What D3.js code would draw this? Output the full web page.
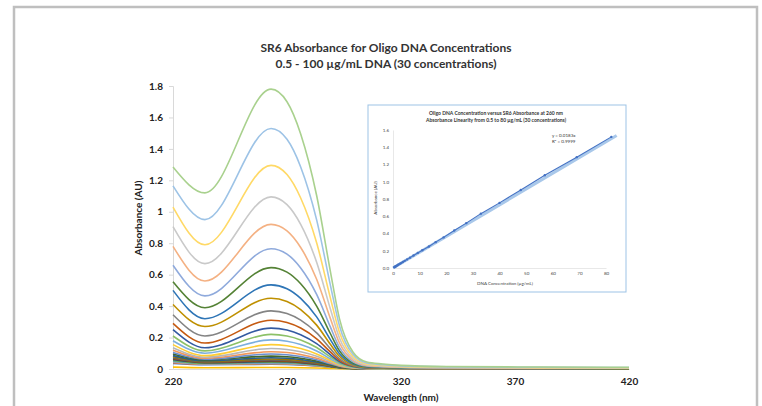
<!DOCTYPE html>
<html>
<head>
<meta charset="utf-8">
<script src="https://cdn.jsdelivr.net/npm/d3@7"></script>
<style>
  body { margin: 0; background: #fff; }
  svg { display: block; font-family: Lato, "Open Sans", sans-serif; }
</style>
</head>
<body>
<svg id="chart" width="762" height="406"></svg>
<script>
// concentrations (ug/mL), series 1..30, lowest first (Excel series order)
const conc = [0.5, 0.6, 0.7, 0.8, 1.0, 1.2, 1.4, 1.7, 2.1, 2.5, 3.0, 3.6, 4.3, 5.2, 6.2,
              7.5, 9, 11, 13, 16, 19, 23, 28, 33, 40, 48, 58, 70, 83, 100];
// absorbance at 220 nm, at the dip (~235 nm) and at the peak (~263 nm)
const a220 = [0.035, 0.04, 0.045, 0.012, 0.05, 0.055, 0.06, 0.065, 0.07, 0.078, 0.085, 0.095, 0.105, 0.12, 0.135,
              0.155, 0.18, 0.21, 0.25, 0.29, 0.345, 0.41, 0.50, 0.555, 0.66, 0.78, 0.905, 1.03, 1.165, 1.285];
const aMin = [0.027, 0.03, 0.032, 0.008, 0.035, 0.037, 0.04, 0.042, 0.045, 0.048, 0.052, 0.057, 0.062, 0.068, 0.075,
              0.085, 0.10, 0.115, 0.135, 0.165, 0.21, 0.27, 0.32, 0.39, 0.465, 0.56, 0.67, 0.79, 0.95, 1.12];
const aPeak = [0.03, 0.033, 0.036, 0.01, 0.04, 0.044, 0.048, 0.052, 0.057, 0.064, 0.072, 0.082, 0.095, 0.11, 0.13,
               0.155, 0.185, 0.22, 0.26, 0.31, 0.37, 0.45, 0.535, 0.645, 0.765, 0.92, 1.095, 1.295, 1.53, 1.78];
// shape of the long-wavelength side, as a fraction of the peak
const decayWave = [270, 276, 283, 289, 293, 299, 305, 312, 320, 340, 380, 420];
const decayFrac = [0.955, 0.84, 0.62, 0.35, 0.18, 0.06, 0.025, 0.018, 0.013, 0.009, 0.007, 0.006];
const wMin = 234, wPeak = 263;

const colors = ["#4472C4","#ED7D31","#A5A5A5","#FFC000","#5B9BD5","#70AD47","#264478","#9E480E","#636363","#997300",
                "#255E91","#43682B","#698ED0","#F1975A","#B7B7B7","#FFCD33","#7CAFDD","#8CC168","#335AA1","#C55A11",
                "#848484","#BF9000","#2E75B6","#548235","#8FAADC","#F4B183","#C9C9C9","#FFD966","#9DC3E6","#A9D18E"];

const xTicks = [220, 270, 320, 370, 420];
const yTicks = [0, 0.2, 0.4, 0.6, 0.8, 1, 1.2, 1.4, 1.6, 1.8];

// inset: absorbance at 260 nm vs concentration
const insetConc = [0.5, 0.6, 0.7, 0.85, 1.0, 1.2, 1.5, 1.8, 2.1, 2.6, 3.1, 3.7, 4.4, 5.3, 6.4,
                   7.7, 9.3, 11, 13.5, 16, 19, 23, 27.5, 33, 40, 48, 57, 69, 82];
const insetAbs = [0.009, 0.011, 0.013, 0.016, 0.019, 0.023, 0.028, 0.034, 0.04, 0.049, 0.058, 0.07, 0.083, 0.1, 0.12,
                  0.145, 0.175, 0.205, 0.25, 0.30, 0.355, 0.435, 0.52, 0.63, 0.755, 0.905, 1.075, 1.285, 1.52];
const slope = 0.0183;
const insetXTicks = [0, 10, 20, 30, 40, 50, 60, 70, 80];
const insetYTicks = [0, 0.2, 0.4, 0.6, 0.8, 1.0, 1.2, 1.4, 1.6];

const svg = d3.select("#chart");

// page frame
svg.append("rect")
    .attr("x", 14).attr("y", 7).attr("width", 743).attr("height", 420)
    .attr("fill", "#fff").attr("stroke", "#bfbfbf").attr("stroke-width", 2.5);

const x = d3.scaleLinear().domain([220, 420]).range([173, 629]);
const y = d3.scaleLinear().domain([0, 1.8]).range([369, 86]);

// titles
svg.append("text").attr("x", 386).attr("y", 52).attr("text-anchor", "middle")
    .attr("font-size", 12).attr("font-weight", "bold").attr("fill", "#333")
    .text("SR6 Absorbance for Oligo DNA Concentrations");
svg.append("text").attr("x", 386).attr("y", 68).attr("text-anchor", "middle")
    .attr("font-size", 12).attr("font-weight", "bold").attr("fill", "#333")
    .text("0.5 - 100 µg/mL DNA (30 concentrations)");

// axes
const yAxis = svg.append("g")
    .attr("transform", `translate(${x(220)},0)`)
    .call(d3.axisLeft(y).tickValues(yTicks).tickSize(4).tickPadding(6).tickFormat(d3.format("~g")));
const xAxis = svg.append("g")
    .attr("transform", `translate(0,${y(0)})`)
    .call(d3.axisBottom(x).tickValues(xTicks).tickSize(0).tickPadding(9));
[xAxis, yAxis].forEach(function(g) {
    g.select(".domain").attr("stroke", "#d9d9d9");
    g.selectAll(".tick line").attr("stroke", "#d9d9d9");
    g.selectAll("text").attr("font-size", 10).attr("font-weight", "bold").attr("fill", "#222")
        .attr("font-family", "Lato, sans-serif");
});

svg.append("text").attr("x", 401).attr("y", 401).attr("text-anchor", "middle")
    .attr("font-size", 10).attr("font-weight", "bold").attr("fill", "#222")
    .text("Wavelength (nm)");
svg.append("text").attr("transform", "translate(142,218) rotate(-90)").attr("text-anchor", "middle")
    .attr("font-size", 10).attr("font-weight", "bold").attr("fill", "#222")
    .text("Absorbance (AU)");

// spectra
function spectrum(i) {
    const pts = [[220, a220[i]], [wMin, aMin[i]], [wPeak, aPeak[i]]];
    decayWave.forEach(function(w, k) { pts.push([w, aPeak[i] * decayFrac[k]]); });
    return pts;
}
const line = d3.line()
    .x(d => x(d[0]))
    .y(d => y(d[1]))
    .curve(d3.curveMonotoneX);

svg.append("g").selectAll("path")
    .data(conc.map((c, i) => i))
    .enter()
    .append("path")
    .attr("d", i => line(spectrum(i)))
    .attr("fill", "none")
    .attr("stroke", i => colors[i])
    .attr("stroke-width", 1.6);

// inset chart
const inset = svg.append("g");
inset.append("rect")
    .attr("x", 368).attr("y", 105).attr("width", 258).attr("height", 187)
    .attr("fill", "#fff").attr("stroke", "#9dc3e6").attr("stroke-width", 1);

const ix = d3.scaleLinear().domain([0, 80]).range([393, 606]);
const iy = d3.scaleLinear().domain([0, 1.6]).range([268, 130]);

inset.append("text").attr("x", 496).attr("y", 115).attr("text-anchor", "middle")
    .attr("font-size", 5).attr("font-weight", "bold").attr("fill", "#333")
    .text("Oligo DNA Concentration versus SR6 Absorbance at 260 nm");
inset.append("text").attr("x", 496).attr("y", 122).attr("text-anchor", "middle")
    .attr("font-size", 5).attr("font-weight", "bold").attr("fill", "#333")
    .text("Absorbance Linearity from 0.5 to 80 µg/mL (30 concentrations)");

const ixAxis = inset.append("g").attr("transform", `translate(0,${iy(0)})`)
    .call(d3.axisBottom(ix).tickValues(insetXTicks).tickSize(0).tickPadding(4));
const iyAxis = inset.append("g").attr("transform", `translate(${ix(0)},0)`)
    .call(d3.axisLeft(iy).tickValues(insetYTicks).tickSize(0).tickPadding(4).tickFormat(d3.format(".1f")));
[ixAxis, iyAxis].forEach(function(g) {
    g.select(".domain").attr("stroke", "#d9d9d9").attr("stroke-width", 0.6);
    g.selectAll("text").attr("font-size", 4.5).attr("fill", "#444").attr("font-family", "Lato, sans-serif");
});

inset.append("text").attr("x", 505).attr("y", 285).attr("text-anchor", "middle")
    .attr("font-size", 4.5).attr("fill", "#444").text("DNA Concentration (µg/mL)");
inset.append("text").attr("transform", "translate(377,198) rotate(-90)").attr("text-anchor", "middle")
    .attr("font-size", 4.5).attr("fill", "#444").text("Absorbance (AU)");

// trendline (linear, through origin)
const trendX = [0, 84];
inset.append("line")
    .attr("x1", ix(trendX[0])).attr("y1", iy(slope * trendX[0]))
    .attr("x2", ix(trendX[1])).attr("y2", iy(slope * trendX[1]))
    .attr("stroke", "#a9c8ea").attr("stroke-width", 3);

const insetLine = d3.line().x((d, i) => ix(insetConc[i])).y(d => iy(d));
inset.append("path")
    .attr("d", insetLine(insetAbs))
    .attr("fill", "none").attr("stroke", "#4472c4").attr("stroke-width", 1.1);
inset.append("g").selectAll("circle")
    .data(insetAbs)
    .enter()
    .append("circle")
    .attr("cx", (d, i) => ix(insetConc[i]))
    .attr("cy", d => iy(d))
    .attr("r", 1.2)
    .attr("fill", "#4472c4");

inset.append("text").attr("x", 552).attr("y", 137)
    .attr("font-size", 4.5).attr("fill", "#333").text("y = 0.0183x");
inset.append("text").attr("x", 552).attr("y", 143)
    .attr("font-size", 4.5).attr("fill", "#333").text("R² = 0.9999");
</script>
</body>
</html>
